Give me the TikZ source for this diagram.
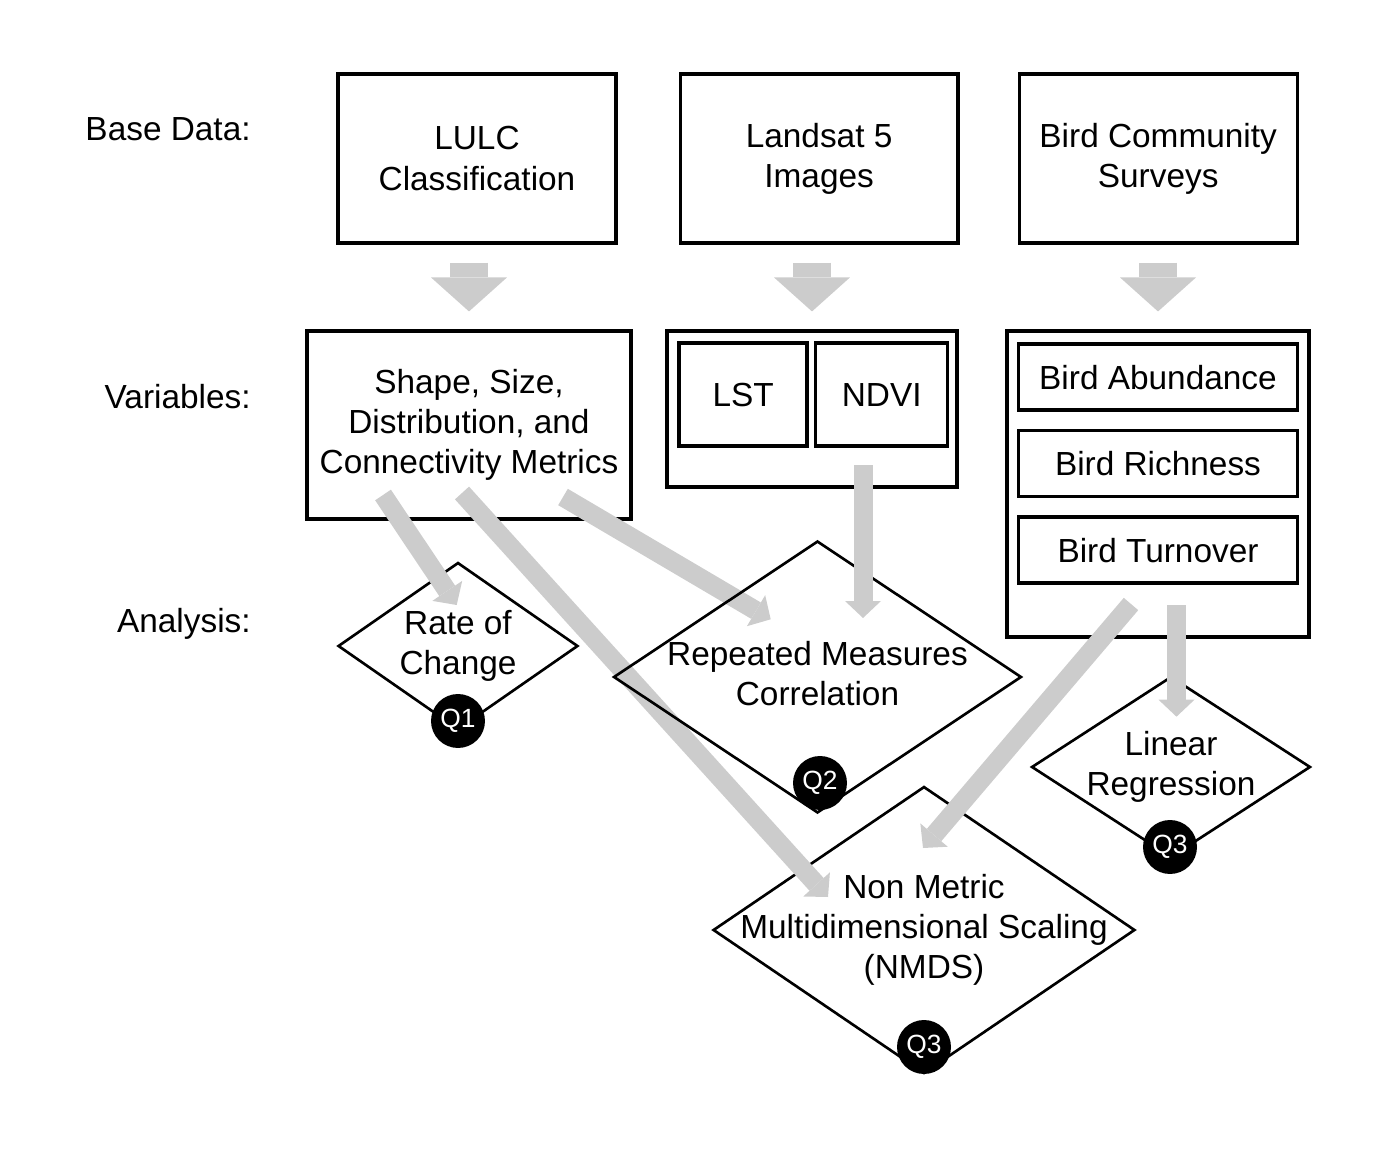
\documentclass[tikz,border=0pt]{standalone}
\usepackage{fontspec}
\setmainfont{Liberation Sans}
\usetikzlibrary{arrows.meta, positioning, shapes.geometric}

\begin{document}
\begin{tikzpicture}[x=0.02cm, y=-0.02cm, font=\fontsize{19}{22.8}\selectfont]
		\tikzstyle{Box} = [rectangle, minimum width=5.56cm, minimum height=3.38cm, text centered, align=center, draw=black, line width=1.8pt]
		\tikzstyle{InnerBox} = [rectangle, minimum width=5.58cm, minimum height=1.32cm, text centered, draw=black, line width=2pt]
		\tikzstyle{Decision} = [diamond, draw=black, line width=1.5pt, inner sep=0pt]
		\tikzstyle{QMark} = [circle, fill=black, text=white, minimum size=1.08cm, inner sep=0pt, font=\fontsize{15}{17}\selectfont]
		\tikzstyle{RowLabel} = [anchor=east, inner sep=0pt]
		\tikzstyle{BigArrow} = [line width=0.76cm, draw=gray!40, -{Triangle[length=0.68cm, width=1.52cm, line width=0pt]}]
		\tikzstyle{arrow} = [line width=0.38cm, draw=gray!40, -{Triangle[length=0.34cm, width=0.72cm, line width=0pt]}]
		
		\useasboundingbox (0,0) rectangle (1384,1149);
		
		\node (basedata) [RowLabel] at (251,129) {Base Data:};
		\node (variables) [RowLabel] at (251,397) {Variables:};
		\node (analysis) [RowLabel] at (251,624) {Analysis:};
		
		\node (lulc) [Box] at (477,158.5) {LULC\\Classification};
		\node (landsat) [Box, right=1.22cm of lulc] {Landsat 5\\Images};
		\node (bird) [Box, right=1.16cm of landsat] {Bird Community\\Surveys};
		
		\node (shape) [Box, minimum width=6.48cm, minimum height=3.76cm] at (469,425) {Shape, Size,\\Distribution, and\\Connectivity Metrics};
		\node (lsvars) [Box, minimum width=5.8cm, minimum height=3.12cm] at (812,409) {};
		\node (lst) [InnerBox, minimum width=2.56cm, minimum height=2.06cm, below right=0.24cm and 0.24cm of lsvars.north west] {LST};
		\node (ndvi) [InnerBox, minimum width=2.64cm, minimum height=2.06cm, right=0.1cm of lst] {NDVI};
		\node (birdvars) [Box, minimum width=6.04cm, minimum height=6.12cm] at (1158,484) {};
		\node (abund) [InnerBox, below=0.26cm of birdvars.north] {Bird Abundance};
		\node (rich) [InnerBox, below=0.34cm of abund] {Bird Richness};
		\node (turn) [InnerBox, below=0.34cm of rich] {Bird Turnover};
		
		\node (roc) [Decision, minimum width=4.8cm, minimum height=3.34cm] at (458,646) {};
		\node (roctext) [align=center] at (roc) {Rate of\\Change};
		\node (lr) [Decision, minimum width=5.58cm, minimum height=3.62cm] at (1171,767) {};
		\node (lrtext) [align=center] at (lr) {Linear\\Regression};
		\node (nmds) [Decision, minimum width=8.44cm, minimum height=5.74cm] at (924,930) {};
		\node (nmdstext) [align=center] at (nmds) {Non Metric\\Multidimensional Scaling\\(NMDS)};
		
		\draw[BigArrow, shorten <=0.36cm, shorten >=0.36cm] (lulc.south -| shape.north) -- (shape.north);
		\draw[BigArrow, shorten <=0.36cm, shorten >=0.36cm] (landsat.south -| lsvars.north) -- (lsvars.north);
		\draw[BigArrow, shorten <=0.36cm, shorten >=0.36cm] (bird.south -| birdvars.north) -- (birdvars.north);
		
		% ends of the grey arrows
		\coordinate (s1) at (383,495);
		\coordinate (s2) at (462,493);
		\coordinate (s3) at (563,497);
		\coordinate (b1) at (1131,604);
		\coordinate (b2) at (1176.5,605);
		\coordinate (n1) at (863,465);
		\coordinate (rocin) at (456.7,605);
		\coordinate (nmdsin) at (828,897);
		\coordinate (nmdsin2) at (923,848);
		\coordinate (rmin) at (770.7,619.3);
		\coordinate (rmin2) at (863,618);
		\coordinate (lrin) at (1176.5,716.7);
		
		\draw[arrow] (s1) -- (rocin);
		\draw[arrow] (s2) -- (nmdsin);
		\draw[arrow] (s3) -- (rmin);
		\draw[arrow] (b1) -- (nmdsin2);
		\draw[arrow] (b2) -- (lrin);
		
		\node (rm) [Decision, minimum width=8.16cm, minimum height=5.44cm] at (817.5,677) {};
		\node (rmtext) [align=center] at ([yshift=0.06cm]rm.center) {Repeated Measures\\Correlation};
		\draw[arrow] (n1) -- (rmin2);
		
		\node (q1) [QMark] at (458,721) {Q1};
		\node (q2) [QMark] at (820,783) {Q2};
		\node (q3a) [QMark] at (1170,847) {Q3};
		\node (q3b) [QMark] at (924,1047) {Q3};
		\end{tikzpicture}
\end{document}
